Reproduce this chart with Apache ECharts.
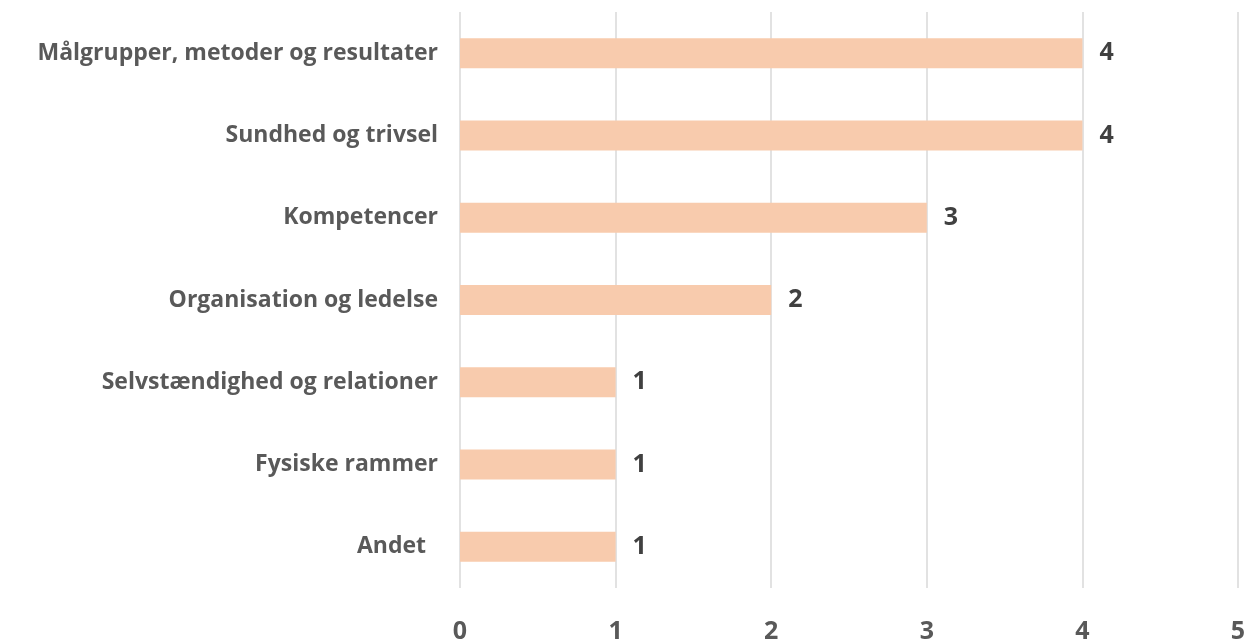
<!DOCTYPE html>
<html><head><meta charset="utf-8">
<script src="https://cdn.jsdelivr.net/npm/echarts@6/dist/echarts.min.js"></script>
<style>html,body{margin:0;padding:0;background:#fff}#c{width:1259px;height:644px}</style>
</head><body><div id="c"></div>
<script>
const categories = ["Målgrupper, metoder og resultater","Sundhed og trivsel","Kompetencer","Organisation og ledelse","Selvstændighed og relationer","Fysiske rammer","Andet  "];
const values = [4,4,3,2,1,1,1];
const xTicks = [0,1,2,3,4,5];
const CAT_FONT = "'Open Sans', 'Liberation Sans', sans-serif";
const NUM_FONT = "'Open Sans', 'Liberation Sans', sans-serif";
const chart = echarts.init(document.getElementById('c'), null, {renderer:'canvas'});
chart.setOption({
  animation:false,
  grid:{left:460, right:21, top:12, bottom:55, containLabel:false},
  xAxis:{type:'value', min:xTicks[0], max:xTicks[xTicks.length-1], interval:1,
    axisLine:{show:false}, axisTick:{show:false},
    splitLine:{lineStyle:{color:'#d9d9d9', width:1.5}},
    axisLabel:{margin:31, fontFamily:NUM_FONT, fontWeight:'bold', fontSize:25, color:'#595959'}},
  yAxis:{type:'category', data:categories, inverse:true,
    axisLine:{show:false}, axisTick:{show:false},
    axisLabel:{margin:22, fontFamily:CAT_FONT, fontWeight:'bold', fontSize:23, color:'#595959'}},
  series:[{type:'bar', data:values, barWidth:30,
    itemStyle:{color:'#F8CBAD'},
    label:{show:true, position:'right', distance:17, fontFamily:NUM_FONT, fontWeight:'bold', fontSize:25, color:'#404040'}}]
});
</script></body></html>
